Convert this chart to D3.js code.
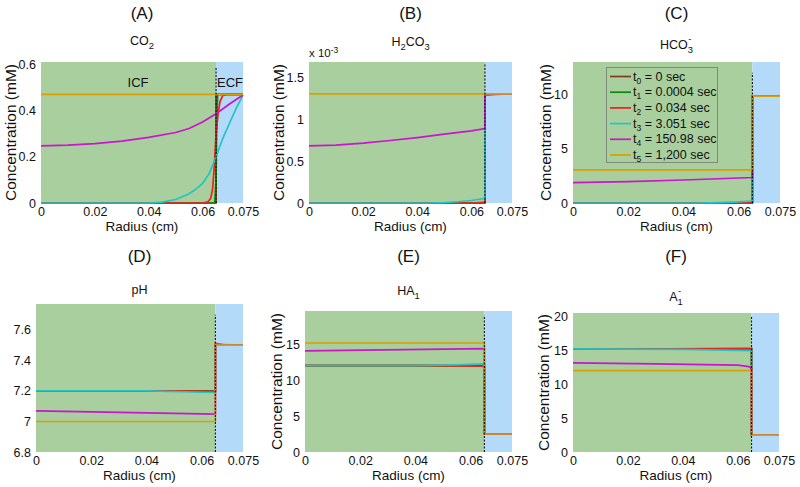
<!DOCTYPE html>
<html><head><meta charset="utf-8">
<script src="https://cdn.jsdelivr.net/npm/d3@7"></script>
<style>body{margin:0;background:#fff}svg{display:block;font-family:"Liberation Sans",Arial,sans-serif}</style>
</head><body><svg id="c" width="800" height="487"></svg>
<script>
// ---------------- data ----------------
const interfaceRadius = 0.065;
const outerRadius = 0.075;
const radiusTicks = [0, 0.02, 0.04, 0.06, 0.075];
const radiusTickLabels = ["0", "0.02", "0.04", "0.06", "0.075"];
const timeSubs = ["0", "1", "2", "3", "4", "5"];
const timeLabels = ["0 sec", "0.0004 sec", "0.034 sec", "3.051 sec", "150.98 sec", "1,200 sec"];
const seriesColors = ["#7b3a1c", "#0a8a0a", "#ee2020", "#22c4c0", "#cc14cc", "#d9a000"];

// CO2 (mM)
const co2_t0 = [[0,0],[0.065,0],[0.065,0.47],[0.075,0.47]];
const co2_t1 = [[0,0],[0.0645,0],[0.065,0.1],[0.0652,0.3],[0.0656,0.47],[0.075,0.47]];
const co2_t2 = [[0,0],[0.06,0],[0.062,0.005],[0.063,0.02],[0.0637,0.06],[0.0643,0.15],[0.065,0.3],[0.0658,0.39],[0.0665,0.44],[0.0675,0.465],[0.069,0.47],[0.075,0.47]];
const co2_t3 = [[0,0],[0.04,0],[0.045,0.004],[0.05,0.015],[0.055,0.04],[0.0575,0.06],[0.06,0.085],[0.0625,0.128],[0.065,0.2],[0.0675,0.28],[0.07,0.345],[0.0725,0.41],[0.075,0.467]];
const co2_t4 = [[0,0.247],[0.01,0.25],[0.02,0.257],[0.03,0.268],[0.04,0.284],[0.05,0.305],[0.055,0.322],[0.06,0.35],[0.065,0.386],[0.07,0.428],[0.075,0.467]];
const co2_t5 = [[0,0.47],[0.075,0.47]];

// H2CO3 (x 1e-3 mM)
const h2co3_t0 = [[0,0],[0.065,0],[0.065,1.3],[0.075,1.3]];
const h2co3_t1 = [[0,0],[0.065,0],[0.065,1.3],[0.075,1.3]];
const h2co3_t2 = [[0,0],[0.058,0],[0.062,0.003],[0.065,0.01],[0.065,1.28],[0.067,1.295],[0.075,1.3]];
const h2co3_t3 = [[0,0],[0.045,0],[0.05,0.005],[0.055,0.015],[0.06,0.03],[0.065,0.055],[0.065,1.285],[0.068,1.298],[0.075,1.3]];
const h2co3_t4 = [[0,0.68],[0.01,0.69],[0.02,0.713],[0.03,0.745],[0.04,0.78],[0.05,0.82],[0.06,0.86],[0.065,0.887],[0.065,1.29],[0.075,1.3]];
const h2co3_t5 = [[0,1.3],[0.075,1.3]];

// HCO3- (mM)
const hco3_t0 = [[0,0],[0.065,0],[0.065,9.85],[0.075,9.85]];
const hco3_t1 = [[0,0],[0.065,0],[0.065,9.85],[0.075,9.85]];
const hco3_t2 = [[0,0],[0.058,0],[0.062,0.05],[0.065,0.12],[0.065,9.85],[0.075,9.85]];
const hco3_t3 = [[0,0],[0.045,0],[0.05,0.02],[0.055,0.05],[0.06,0.1],[0.065,0.18],[0.065,9.85],[0.075,9.85]];
const hco3_t4 = [[0,1.88],[0.02,1.97],[0.04,2.12],[0.065,2.35],[0.065,9.85],[0.075,9.85]];
const hco3_t5 = [[0,3.05],[0.065,3.05],[0.065,9.85],[0.075,9.85]];

// pH
const ph_t0 = [[0,7.2],[0.065,7.2],[0.065,7.5],[0.075,7.5]];
const ph_t1 = [[0,7.2],[0.065,7.2],[0.065,7.5],[0.075,7.5]];
const ph_t2 = [[0,7.2],[0.047,7.2],[0.055,7.199],[0.065,7.197],[0.065,7.512],[0.068,7.503],[0.075,7.5]];
const ph_t3 = [[0,7.2],[0.04,7.2],[0.065,7.19],[0.065,7.505],[0.075,7.5]];
const ph_t4 = [[0,7.07],[0.065,7.048],[0.065,7.5],[0.075,7.5]];
const ph_t5 = [[0,7.0],[0.065,7.0],[0.065,7.5],[0.075,7.5]];

// HA1 (mM)
const ha1_t0 = [[0,12],[0.065,12],[0.065,2.5],[0.075,2.5]];
const ha1_t1 = [[0,12],[0.065,12],[0.065,2.5],[0.075,2.5]];
const ha1_t2 = [[0,12],[0.044,12],[0.055,11.97],[0.065,11.95],[0.065,2.5],[0.075,2.5]];
const ha1_t3 = [[0,12],[0.04,12],[0.055,12.1],[0.065,12.25],[0.065,2.5],[0.075,2.5]];
const ha1_t4 = [[0,14.05],[0.065,14.38],[0.065,2.5],[0.075,2.5]];
const ha1_t5 = [[0,15.15],[0.065,15.15],[0.065,2.5],[0.075,2.5]];

// A1- (mM)
const a1_t0 = [[0,15.2],[0.065,15.2],[0.065,2.5],[0.075,2.5]];
const a1_t1 = [[0,15.2],[0.065,15.2],[0.065,2.5],[0.075,2.5]];
const a1_t2 = [[0,15.2],[0.035,15.2],[0.05,15.25],[0.065,15.3],[0.065,2.5],[0.075,2.5]];
const a1_t3 = [[0,15.2],[0.04,15.15],[0.065,14.95],[0.065,2.5],[0.075,2.5]];
const a1_t4 = [[0,13.15],[0.03,13.0],[0.06,12.8],[0.064,12.6],[0.065,12.3],[0.065,2.5],[0.075,2.5]];
const a1_t5 = [[0,12.0],[0.065,12.0],[0.065,2.5],[0.075,2.5]];

const co2Ticks = [0, 0.2, 0.4, 0.6];
const h2co3Ticks = [0, 0.5, 1, 1.5];
const hco3Ticks = [0, 5, 10];
const phTicks = [6.8, 7, 7.2, 7.4, 7.6];
const ha1Ticks = [0, 5, 10, 15];
const a1Ticks = [0, 5, 10, 15, 20];

const panelLetters = ["(A)", "(B)", "(C)", "(D)", "(E)", "(F)"];
const yDomains = [[0,0.61],[0,1.68],[0,13],[6.8,7.77],[0,19.6],[0,20.5]];
const dashTops = [0.59, 1.65, 12.0, 7.7, 19.0, 20.0];

// ---------------- layout ----------------
const panels = [
  {l:41, r:243, t:62, b:203, lY:19, sY:45, yl:11, series:[co2_t0,co2_t1,co2_t2,co2_t3,co2_t4,co2_t5], ticks:co2Ticks,
   name:[{n:"CO"},{sub:"2"}]},
  {l:309, r:512, t:62, b:203, lY:19, sY:46, yl:279, series:[h2co3_t0,h2co3_t1,h2co3_t2,h2co3_t3,h2co3_t4,h2co3_t5], ticks:h2co3Ticks,
   name:[{n:"H"},{sub:"2"},{n:"CO"},{sub:"3"}]},
  {l:573, r:780, t:62, b:203, lY:19, sY:49, yl:546, series:[hco3_t0,hco3_t1,hco3_t2,hco3_t3,hco3_t4,hco3_t5], ticks:hco3Ticks,
   name:[{n:"HCO"},{sub:"3", sup:"-"}]},
  {l:36, r:243, t:304, b:452, lY:262, sY:294, yl:null, series:[ph_t0,ph_t1,ph_t2,ph_t3,ph_t4,ph_t5], ticks:phTicks,
   name:[{n:"pH"}]},
  {l:305, r:512, t:311, b:452, lY:262, sY:295, yl:277, series:[ha1_t0,ha1_t1,ha1_t2,ha1_t3,ha1_t4,ha1_t5], ticks:ha1Ticks,
   name:[{n:"HA"},{sub:"1"}]},
  {l:573, r:779, t:313, b:452, lY:262, sY:301, yl:544, series:[a1_t0,a1_t1,a1_t2,a1_t3,a1_t4,a1_t5], ticks:a1Ticks,
   name:[{n:"A"},{sub:"1", sup:"-"}]}
];

const GREEN = "#a9cf9e", BLUE = "#b3dbf9", INK = "#111";
const svg = d3.select("#c");

function measure(txt, size) {
  const t = svg.append("text").attr("font-size", size).text(txt);
  const w = t.node().getComputedTextLength();
  t.remove();
  return w;
}

function chem(g, cx, y, parts, size) {
  const small = size * 0.75;
  const widths = parts.map(p => p.n !== undefined ? measure(p.n, size)
      : Math.max(p.sub ? measure(p.sub, small) : 0, p.sup ? measure(p.sup, small) : 0));
  let x = cx - d3.sum(widths) / 2;
  parts.forEach((p, i) => {
    if (p.n !== undefined) {
      g.append("text").attr("x", x).attr("y", y).attr("font-size", size).attr("fill", INK).text(p.n);
    } else {
      if (p.sub) g.append("text").attr("x", x).attr("y", y + size * 0.35).attr("font-size", small).attr("fill", INK).text(p.sub);
      if (p.sup) g.append("text").attr("x", x + 0.5).attr("y", y - size * 0.55).attr("font-size", small).attr("fill", INK).text(p.sup);
    }
    x += widths[i];
  });
}

panels.forEach((p, i) => {
  const g = svg.append("g");
  const x = d3.scaleLinear().domain([0, outerRadius]).range([p.l, p.r]);
  const y = d3.scaleLinear().domain(yDomains[i]).range([p.b, p.t]);

  g.append("rect").attr("x", x(0)).attr("y", p.t).attr("width", x(interfaceRadius) - x(0)).attr("height", p.b - p.t).attr("fill", GREEN);
  g.append("rect").attr("x", x(interfaceRadius)).attr("y", p.t).attr("width", x(outerRadius) - x(interfaceRadius)).attr("height", p.b - p.t).attr("fill", BLUE);

  // axes (tick labels only)
  const xa = g.append("g").attr("transform", `translate(0,${p.b})`)
    .call(d3.axisBottom(x).tickValues(radiusTicks).tickFormat((d, k) => radiusTickLabels[k]).tickSize(0).tickPadding(4));
  xa.select(".domain").remove();
  xa.selectAll("text").attr("font-size", 12.5).attr("font-family", "Liberation Sans, Arial, sans-serif").attr("fill", INK);
  const ya = g.append("g").attr("transform", `translate(${p.l},0)`)
    .call(d3.axisLeft(y).tickValues(p.ticks).tickFormat(d3.format("~g")).tickSize(0).tickPadding(5));
  ya.select(".domain").remove();
  ya.selectAll("text").attr("font-size", 12.5).attr("font-family", "Liberation Sans, Arial, sans-serif").attr("fill", INK);

  // series
  const line = d3.line().x(d => x(d[0])).y(d => y(d[1]));
  p.series.forEach((s, k) => {
    g.append("path").attr("d", line(s)).attr("fill", "none").attr("stroke", seriesColors[k]).attr("stroke-width", 1.7);
  });

  // interface dashed line
  g.append("line").attr("x1", x(interfaceRadius)).attr("x2", x(interfaceRadius))
    .attr("y1", y(yDomains[i][0])).attr("y2", y(dashTops[i]))
    .attr("stroke", "#111").attr("stroke-width", 1.1).attr("stroke-dasharray", "2,1.5");

  // labels
  const cx = (p.l + p.r) / 2;
  g.append("text").attr("x", cx).attr("y", p.lY).attr("text-anchor", "middle").attr("font-size", 17).attr("fill", INK).text(panelLetters[i]);
  chem(g, cx, p.sY, p.name, 12.5);
  g.append("text").attr("x", cx).attr("y", p.b + 28).attr("text-anchor", "middle").attr("font-size", 13.5).attr("fill", INK).text("Radius (cm)");
  if (p.yl !== null) {
    g.append("text").attr("transform", `translate(${p.yl + 5},${(p.t + p.b) / 2}) rotate(-90)`)
      .attr("text-anchor", "middle").attr("font-size", 15.5).attr("fill", INK).text("Concentration (mM)");
  }

  if (i === 0) {
    g.append("text").attr("x", 138).attr("y", 87).attr("text-anchor", "middle").attr("font-size", 13).attr("fill", INK).text("ICF");
    g.append("text").attr("x", 230).attr("y", 87).attr("text-anchor", "middle").attr("font-size", 13).attr("fill", INK).text("ECF");
  }
  if (i === 1) {
    const t = g.append("text").attr("x", p.l).attr("y", 57).attr("font-size", 11.5).attr("fill", INK);
    t.append("tspan").text("x 10");
    t.append("tspan").attr("dy", -4).attr("font-size", 8.5).text("-3");
  }
  if (i === 2) {
    const lg = g.append("g");
    lg.append("rect").attr("x", 606.5).attr("y", 67.5).attr("width", 111).attr("height", 95)
      .attr("fill", GREEN).attr("stroke", "#7d8c7a").attr("stroke-width", 1);
    timeLabels.forEach((lab, k) => {
      const yy = 76.5 + k * 15.7;
      lg.append("line").attr("x1", 610).attr("x2", 631).attr("y1", yy).attr("y2", yy).attr("stroke", seriesColors[k]).attr("stroke-width", 1.7);
      const t = lg.append("text").attr("x", 633).attr("y", yy + 4).attr("font-size", 12.5).attr("fill", INK);
      t.append("tspan").text("t");
      t.append("tspan").attr("dy", 3).attr("font-size", 8.5).text(timeSubs[k]);
      t.append("tspan").attr("dy", -3).text(" = " + lab);
    });
  }
});
</script></body></html>
